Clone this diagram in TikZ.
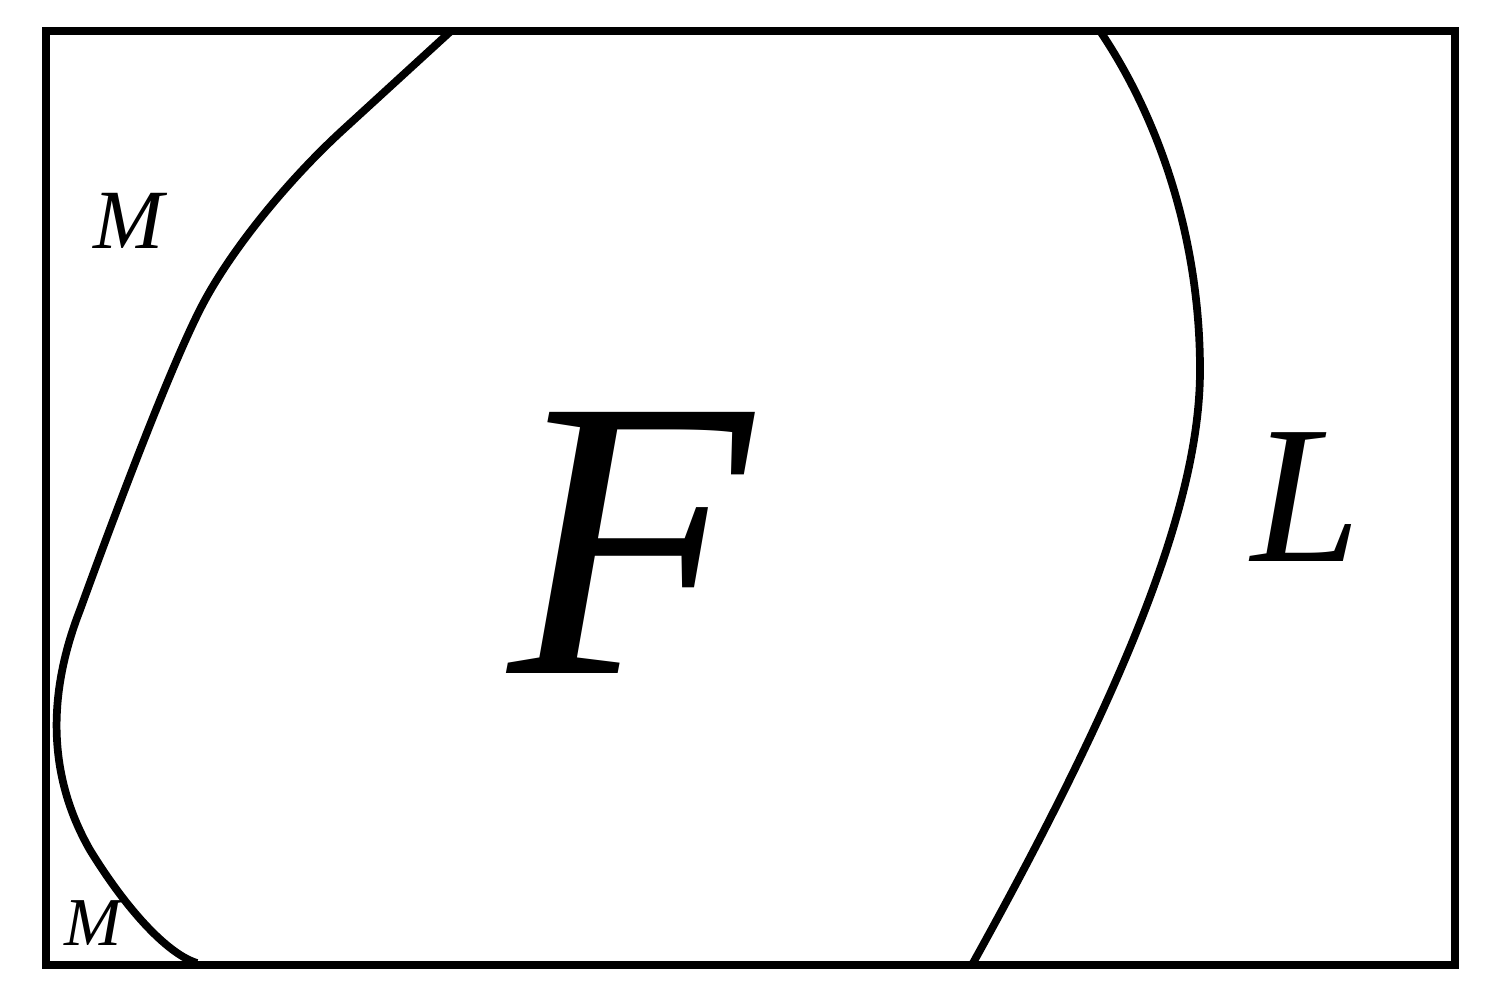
\documentclass[tikz,border=0pt]{standalone}
\usepackage{fontspec}
\setmainfont{Liberation Serif}
\begin{document}
\begin{tikzpicture}[
      x=0.02cm, y=-0.02cm,
      rand/.style={line width=4pt, line join=miter},
      grenz/.style={line width=4.4pt},
      buchst/.style={inner sep=0pt, font=\itshape}
    ]
    \useasboundingbox (0,0) rectangle (1492,1007);
    \draw[rand] (46,31) rectangle (1455,965);
    % linke Grenze
    \draw[grenz] (451,31) -- (345,128)
      .. controls (290,178) and (235,245) .. (205,300)
      .. controls (175,355) and (120,500) .. (80,610)
      .. controls (45,700) and (50,780) .. (90,850)
      .. controls (130,915) and (170,955) .. (197,963);
    % rechte Grenze
    \draw[grenz] (1100,31) .. controls (1160,120) and (1200,240) .. (1200,370)
      .. controls (1200,500) and (1130,680) .. (973,963);
    \path (129,221) node(m1) [buchst] {\fontsize{48}{50}\selectfont M}
    (93,923) node(m2) [buchst] {\fontsize{39}{41}\selectfont M}
    (630,543) node(f) [buchst] {\fontsize{227}{230}\selectfont F}
    (1306,497) node(l) [buchst] {\fontsize{112}{115}\selectfont L};
  \end{tikzpicture}
\end{document}
